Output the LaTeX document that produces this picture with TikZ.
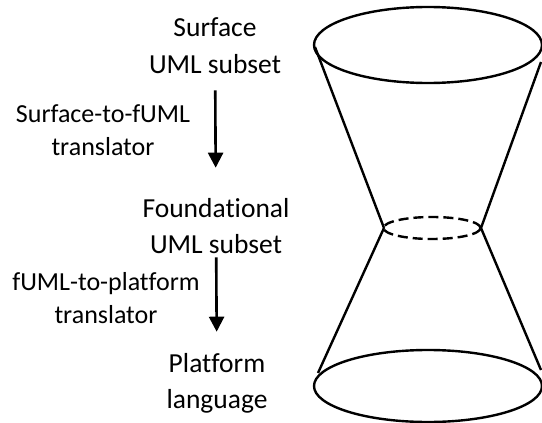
\documentclass[tikz,border=0pt]{standalone}
\usepackage{fontspec}
\setmainfont[Ligatures=NoCommon]{Carlito}
\usetikzlibrary{arrows.meta}

\begin{document}
\begin{tikzpicture}[x=1pt,y=1pt]
\tikzstyle{every node}+=[inner sep=0pt]
\tikzstyle{level}=[align=center,anchor=base,font=\fontsize{27.5}{36}\selectfont]
\tikzstyle{trans}=[align=center,anchor=base,font=\fontsize{26}{33}\selectfont]
\tikzstyle{flow}=[line width=2.6pt,-{Triangle[length=15pt,width=15pt]}]
\tikzstyle{cone}=[black,line width=2.4pt]
\useasboundingbox (0,0) rectangle (542,-423);
% levels
\node [level] (surface) at (215,-73) {Surface\\UML subset};
\node [level] (found) at (216,-253) {Foundational\\UML subset};
\node [level] (platform) at (217,-408) {Platform\\language};
% translators
\node [trans] (s2f) at (103,-155) {Surface-to-fUML\\translator};
\node [trans] (f2p) at (106,-323) {fUML-to-platform\\translator};
\draw [flow,shorten <=17pt,shorten >=30pt] (surface) -- (found);
\draw [flow,shorten <=4pt,shorten >=21pt] (found) -- (platform);
% hourglass
\draw [cone] (428,-45) ellipse (114 and 38);
\draw [cone,dash pattern=on 10pt off 5pt] (432,-228) ellipse (48.5 and 11);
\draw [cone] (428,-386) ellipse (114 and 36);
\draw [cone] (315,-47) -- (384,-228);
\draw [cone] (541,-62) -- (481,-228);
\draw [cone] (384,-228) -- (318,-373);
\draw [cone] (481,-228) -- (541,-370);
\end{tikzpicture}
\end{document}
